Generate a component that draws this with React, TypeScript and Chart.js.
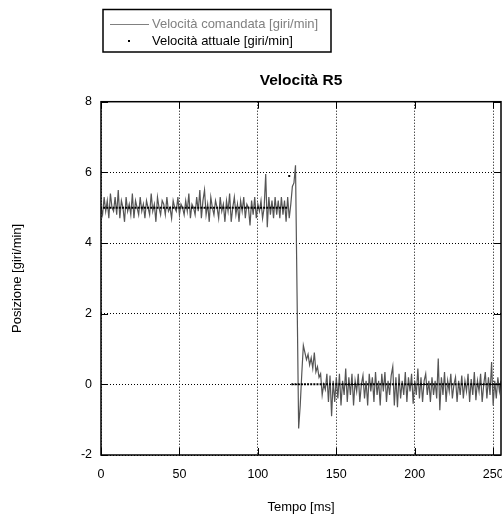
import React, { useEffect, useRef } from "react";
import { Chart, registerables } from "chart.js";

Chart.register(...registerables);

const chartTitle = "Velocità R5";
const xTitle = "Tempo [ms]";
const yTitle = "Posizione [giri/min]";
const seriesLabels = ["Velocità comandata [giri/min]", "Velocità attuale [giri/min]"];
const xTickValues = [0, 50, 100, 150, 200, 250];
const yTickValues = [-2, 0, 2, 4, 6, 8];

// commanded speed, one sample per ms (t = 0..255)
const commanded: number[] = [
  // 0-19
  5.0, 4.8, 5.3, 4.9, 5.2, 4.7, 5.4, 5.0, 4.9, 5.3, 4.8, 5.5, 4.7, 5.2, 5.0, 4.6, 5.3, 4.9, 5.1, 4.8,
  // 20-39
  5.4, 4.7, 5.2, 5.0, 4.8, 5.3, 4.9, 5.1, 4.7, 5.2, 5.0, 4.8, 5.4, 4.9, 5.1, 4.6, 5.3, 5.0, 4.8, 5.2,
  // 40-59
  5.1, 4.8, 5.3, 4.9, 5.0, 4.7, 5.2, 5.0, 4.9, 5.3, 4.8, 5.1, 5.0, 4.8, 5.2, 4.9, 5.4, 4.7, 5.1, 5.0,
  // 60-79
  4.8, 5.3, 4.9, 5.5, 4.7, 5.2, 5.5, 4.8, 5.1, 4.6, 5.3, 5.0, 4.8, 5.2, 5.0, 4.7, 5.3, 4.9, 5.1, 4.6,
  // 80-99
  5.2, 4.9, 5.4, 4.6, 5.0, 5.3, 4.8, 5.1, 4.6, 5.2, 4.9, 5.3, 4.7, 5.1, 5.0, 4.5, 5.2, 4.8, 5.3, 4.7,
  // 100-121
  5.1, 4.9, 5.2, 4.7, 5.0, 5.95, 4.45, 5.3, 4.8, 5.2, 4.7, 5.3, 4.8, 5.2, 4.7, 5.3, 4.8, 5.2, 4.6, 5.3, 4.7, 5.1,
  // 122-149
  5.6, 5.7, 6.2, 2.5, -1.25, -0.6, 0.3, 1.1, 0.9, 0.7, 0.85, 0.55, 0.75, 0.45, 0.9, 0.35, 0.5, 0.2, 0.3, -0.3,
  0.0, -0.15, 0.3, -0.5, 0.25, -0.9, 0.1, -0.5,
  // 150-169
  0.2, -0.4, 0.3, -0.6, 0.1, -0.3, 0.45, -0.5, 0.2, -0.3, 0.3, -0.6, 0.1, -0.2, 0.3, -0.5, 0.0, 0.25, -0.4, 0.1,
  // 170-189
  -0.6, 0.3, -0.2, 0.2, -0.5, 0.35, -0.3, 0.1, -0.6, 0.3, -0.2, 0.35, -0.5, 0.1, -0.3, 0.25, 0.5, -0.6, 0.2, -0.65,
  // 190-209
  0.3, -0.4, 0.1, -0.3, 0.35, -0.5, 0.2, -0.2, 0.3, -0.55, 0.1, -0.3, 0.45, -0.4, 0.2, -0.5, 0.1, 0.3, -0.3, 0.1,
  // 210-229
  -0.5, 0.2, -0.3, 0.1, -0.4, 0.73, -0.73, 0.2, -0.3, 0.35, -0.5, 0.1, -0.2, 0.3, -0.4, 0.0, 0.2, -0.5, 0.1, -0.3,
  // 230-255
  0.25, -0.4, 0.1, -0.2, 0.3, -0.5, 0.15, -0.3, 0.35, -0.45, 0.1, -0.2, 0.3, -0.5, 0.0, 0.35, -0.4, 0.2, -0.3, 0.63,
  -0.6, 0.1, -0.4, 0.2, -0.2, 0.1,
];

// actual speed: sampled every 2 ms, piecewise-constant levels (start ms, value)
const actualStep = 2;
const actualStarts = [0, 120, 122];
const actualValues = [5, 5.9, 0];

const FONT = "'Liberation Sans', Arial, Helvetica, sans-serif";
const LINE_GRAY = "#555555";

function buildActual(n: number) {
  const pts: { x: number; y: number }[] = [];
  for (let i = 0; i < n; i += actualStep) {
    let v = actualValues[0];
    for (let k = 0; k < actualStarts.length; k++) if (i >= actualStarts[k]) v = actualValues[k];
    pts.push({ x: i, y: v });
  }
  return pts;
}

const framePlugin = {
  id: "frameAndLegend",
  afterDraw(chart: any) {
    const { ctx, chartArea } = chart;
    const { left, right, top, bottom } = chartArea;
    ctx.save();
    // frame
    ctx.strokeStyle = "#000";
    ctx.lineWidth = 1.5;
    ctx.strokeRect(left, top, right - left, bottom - top);
    // inward ticks
    ctx.lineWidth = 1;
    const xs = chart.scales.x;
    const ys = chart.scales.y;
    const tl = 7;
    ctx.beginPath();
    xTickValues.forEach((v) => {
      const px = Math.round(xs.getPixelForValue(v)) + 0.5;
      ctx.moveTo(px, bottom);
      ctx.lineTo(px, bottom - tl);
      ctx.moveTo(px, top);
      ctx.lineTo(px, top + tl);
    });
    yTickValues.forEach((v) => {
      const py = Math.round(ys.getPixelForValue(v)) + 0.5;
      ctx.moveTo(left, py);
      ctx.lineTo(left + tl, py);
      ctx.moveTo(right, py);
      ctx.lineTo(right - tl, py);
    });
    ctx.stroke();

    // legend box
    ctx.lineWidth = 1.5;
    ctx.strokeStyle = "#000";
    ctx.strokeRect(103, 9.5, 228, 42.5);
    ctx.font = `13px ${FONT}`;
    ctx.textBaseline = "middle";
    ctx.textAlign = "left";
    // row 1: line
    ctx.strokeStyle = "#808080";
    ctx.lineWidth = 1;
    ctx.beginPath();
    ctx.moveTo(110, 24.5);
    ctx.lineTo(149, 24.5);
    ctx.stroke();
    ctx.fillStyle = "#808080";
    ctx.fillText(chart.data.datasets[0].label, 152, 24.5);
    // row 2: dot
    ctx.fillStyle = "#000";
    ctx.fillRect(128, 40, 2, 2);
    ctx.fillText(chart.data.datasets[1].label, 152, 41.5);
    ctx.restore();
  },
};

export default function App() {
  const ref = useRef<HTMLCanvasElement | null>(null);

  useEffect(() => {
    if (!ref.current) return;
    const cmdPts = commanded.map((v, i) => ({ x: i, y: v }));
    const actPts = buildActual(commanded.length);
    const chart = new Chart(ref.current, {
      type: "line",
      data: {
        datasets: [
          {
            label: seriesLabels[0],
            data: cmdPts,
            borderColor: LINE_GRAY,
            borderWidth: 1.2,
            pointRadius: 0,
            fill: false,
            tension: 0,
            order: 2,
          },
          {
            label: seriesLabels[1],
            data: actPts,
            showLine: false,
            pointRadius: 1.4,
            pointStyle: "rect",
            pointBorderWidth: 0,
            pointBackgroundColor: "#000",
            borderColor: "#000",
            order: 1,
          },
        ],
      },
      options: {
        responsive: false,
        animation: false,
        devicePixelRatio: 1,
        layout: { autoPadding: false, padding: { top: 0, right: 1, bottom: 0, left: 0 } },
        plugins: {
          legend: { display: false },
          tooltip: { enabled: false },
          title: {
            display: true,
            text: chartTitle,
            fullSize: false,
            color: "#000",
            font: { family: FONT, size: 15.5, weight: "bold" },
            padding: { top: 71.7, bottom: 11.4 },
          },
        },
        scales: {
          x: {
            type: "linear",
            min: 0,
            max: 255,
            afterBuildTicks: (s: any) => {
              s.ticks = xTickValues.map((v) => ({ value: v }));
            },
            afterFit: (s: any) => {
              s.height = 60;
              s.paddingLeft = 0;
              s.paddingRight = 0;
            },
            ticks: {
              color: "#000",
              font: { family: FONT, size: 12.5 },
              padding: 12,
              maxRotation: 0,
              autoSkip: false,
            },
            grid: {
              drawTicks: false,
              color: "#000",
              lineWidth: 1,
            },
            border: { display: false, dash: [1, 2] },
            title: {
              display: true,
              text: xTitle,
              color: "#000",
              font: { family: FONT, size: 13 },
              padding: { top: 0, bottom: 0 },
            },
          },
          y: {
            type: "linear",
            min: -2,
            max: 8,
            afterBuildTicks: (s: any) => {
              s.ticks = yTickValues.map((v) => ({ value: v }));
            },
            afterFit: (s: any) => {
              s.width = 101;
              s.paddingTop = 0;
              s.paddingBottom = 0;
            },
            ticks: {
              color: "#000",
              font: { family: FONT, size: 12.5 },
              padding: 9,
            },
            grid: {
              drawTicks: false,
              color: "#000",
              lineWidth: 1,
            },
            border: { display: false, dash: [1, 2] },
            title: {
              display: true,
              text: yTitle,
              color: "#000",
              font: { family: FONT, size: 13 },
              padding: { top: 10, bottom: 0 },
            },
          },
        },
      },
      plugins: [framePlugin],
    });
    return () => chart.destroy();
  }, []);

  return (
    <div style={{ position: "absolute", left: 0, top: 0, width: 502, height: 515, background: "#fff" }}>
      <canvas ref={ref} width={502} height={515} style={{ display: "block", width: 502, height: 515 }} />
    </div>
  );
}
